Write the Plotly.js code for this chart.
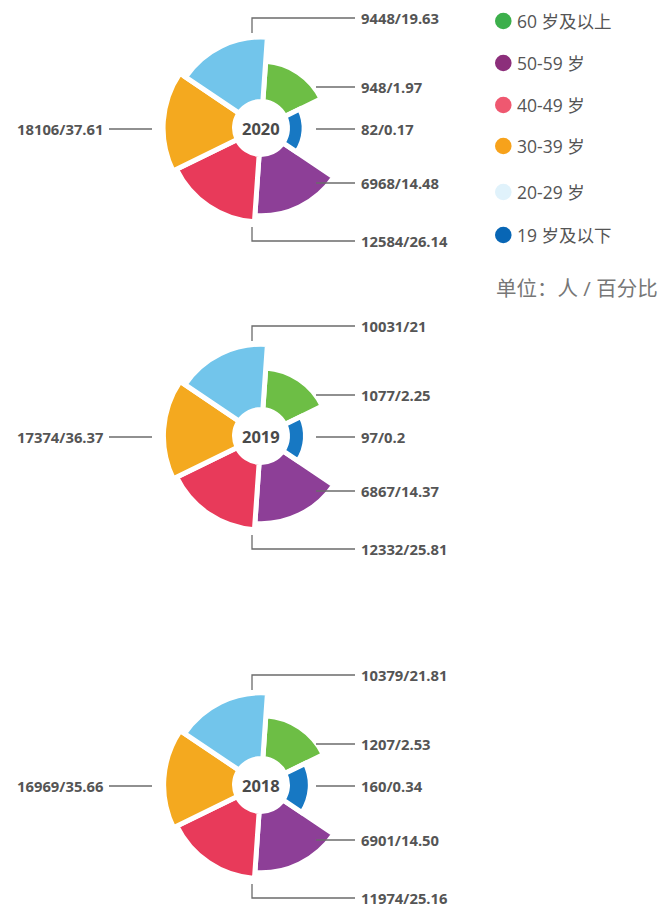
<!DOCTYPE html>
<html><head><meta charset="utf-8">
<script src="https://cdn.plot.ly/plotly-3.0.1.min.js"></script>
<style>body{margin:0;background:#fff}#chart{width:667px;height:907px}</style>
</head><body><div id="chart"></div>
<script>
// ---- data ----
const groups = ['60 岁及以上', '50-59 岁', '40-49 岁', '30-39 岁', '20-29 岁', '19 岁及以下'];
const years = ['2020', '2019', '2018'];
const counts2020 = [948, 6968, 12584, 18106, 9448, 82];
const pctText2020 = ['1.97', '14.48', '26.14', '37.61', '19.63', '0.17'];
const counts2019 = [1077, 6867, 12332, 17374, 10031, 97];
const pctText2019 = ['2.25', '14.37', '25.81', '36.37', '21', '0.2'];
const counts2018 = [1207, 6901, 11974, 16969, 10379, 160];
const pctText2018 = ['2.53', '14.50', '25.16', '35.66', '21.81', '0.34'];
const unitText = '单位：人 / 百分比';

const countsByYear = [counts2020, counts2019, counts2018];
const pctByYear = [pctText2020, pctText2019, pctText2018];

// ---- style / layout ----
const W = 667, H = 907;
const px = x => x / W, py = y => 1 - y / H;
const FONT = '"Open Sans", "Noto Sans CJK SC", sans-serif';
const CX = 261, centersY = [128, 436, 785];
const R = 99, HOLE = 20, RMIN = -1.616, RMAX = 1.62, BASE_LOG = -1.35;

const barColors = {
  '60 岁及以上': '#6dbe45', '50-59 岁': '#8d3f97', '40-49 岁': '#e83a5a',
  '30-39 岁': '#f4a91f', '20-29 岁': '#72c5eb', '19 岁及以下': '#1778c3'
};
const legendColors = {
  '60 岁及以上': '#3caf4b', '50-59 岁': '#8c2f7b', '40-49 岁': '#ef5870',
  '30-39 岁': '#f7a21b', '20-29 岁': '#e0f2fb', '19 岁及以下': '#0866b5'
};
const angleOrder = ['19 岁及以下', '60 岁及以上', '20-29 岁', '30-39 岁', '40-49 岁', '50-59 岁'];
const labelPos = {
  '60 岁及以上': {side: 'right', dy: -41},
  '19 岁及以下': {side: 'right', dy: 1},
  '50-59 岁': {side: 'right', dy: 55},
  '20-29 岁': {side: 'top', dy: -110},
  '40-49 岁': {side: 'bottom', dy: 113},
  '30-39 岁': {side: 'left', dy: 1}
};

const data = [];
const layout = {
  width: W, height: H, margin: {l: 0, r: 0, t: 0, b: 0},
  paper_bgcolor: '#fff', showlegend: false,
  font: {family: FONT, color: '#555'},
  annotations: [], shapes: []
};
const lineStyle = {color: '#6b6b6b', width: 1.3};
const hidden = {showline: false, showgrid: false, showticklabels: false, ticks: '',
  linecolor: 'rgba(0,0,0,0)', gridcolor: 'rgba(0,0,0,0)'};

years.forEach((yr, i) => {
  const key = i === 0 ? 'polar' : 'polar' + (i + 1);
  const cy = centersY[i];
  data.push({
    type: 'barpolar', subplot: key,
    theta: groups,
    r: pctByYear[i].map(Number),
    base: Math.pow(10, BASE_LOG),
    marker: {color: groups.map(g => barColors[g]), line: {color: '#ffffff', width: 5}},
    hoverinfo: 'skip'
  });
  layout[key] = {
    domain: {x: [px(CX - R), px(CX + R)], y: [py(cy + R), py(cy - R)]},
    hole: HOLE / R, bargap: 0, bgcolor: 'rgba(0,0,0,0)',
    radialaxis: Object.assign({type: 'log', range: [RMIN, RMAX]}, hidden),
    angularaxis: Object.assign({type: 'category', categoryorder: 'array', categoryarray: angleOrder,
      rotation: -4, direction: 'counterclockwise'}, hidden)
  };
  layout.annotations.push({
    xref: 'paper', yref: 'paper', x: px(CX), y: py(cy), text: '<b>' + yr + '</b>',
    showarrow: false, xanchor: 'center', yanchor: 'middle',
    font: {size: 16.5, color: '#4a4a4a', family: FONT}
  });
  groups.forEach((g, j) => {
    const lp = labelPos[g];
    const ly = cy + lp.dy;
    const txt = '<b>' + countsByYear[i][j] + '/' + pctByYear[i][j] + '</b>';
    if (lp.side === 'left') {
      layout.annotations.push({xref: 'paper', yref: 'paper', x: px(105), y: py(ly), text: txt,
        showarrow: false, xanchor: 'right', yanchor: 'middle', font: {size: 14.8, color: '#555'}});
      layout.shapes.push({type: 'line', xref: 'paper', yref: 'paper',
        x0: px(109), x1: px(152), y0: py(ly), y1: py(ly), line: lineStyle});
    } else {
      layout.annotations.push({xref: 'paper', yref: 'paper', x: px(359), y: py(ly), text: txt,
        showarrow: false, xanchor: 'left', yanchor: 'middle', font: {size: 14.8, color: '#555'}});
      if (lp.side === 'right') {
        layout.shapes.push({type: 'line', xref: 'paper', yref: 'paper',
          x0: px(316), x1: px(355), y0: py(ly), y1: py(ly), line: lineStyle});
      } else {
        const yStart = lp.side === 'top' ? cy - 95 : cy + 99;
        layout.shapes.push({type: 'path', xref: 'paper', yref: 'paper',
          path: 'M' + px(252) + ',' + py(yStart) + ' L' + px(252) + ',' + py(ly) +
                ' L' + px(355) + ',' + py(ly), line: lineStyle});
      }
    }
  });
});

// ---- custom legend ----
const legendY = [21, 63, 105, 146, 192, 235];
groups.forEach((g, j) => {
  const y = legendY[j];
  layout.shapes.push({type: 'circle', xref: 'paper', yref: 'paper',
    x0: px(495), x1: px(511.6), y0: py(y + 8.3), y1: py(y - 8.3),
    fillcolor: legendColors[g], line: {width: 0}});
  layout.annotations.push({xref: 'paper', yref: 'paper', x: px(515), y: py(y), text: g,
    showarrow: false, xanchor: 'left', yanchor: 'middle', font: {size: 17.5, color: '#555'}});
});
layout.annotations.push({xref: 'paper', yref: 'paper', x: px(494), y: py(288), text: unitText,
  showarrow: false, xanchor: 'left', yanchor: 'middle', font: {size: 20.5, color: '#777'}});

Plotly.newPlot('chart', data, layout, {staticPlot: true});
</script></body></html>
